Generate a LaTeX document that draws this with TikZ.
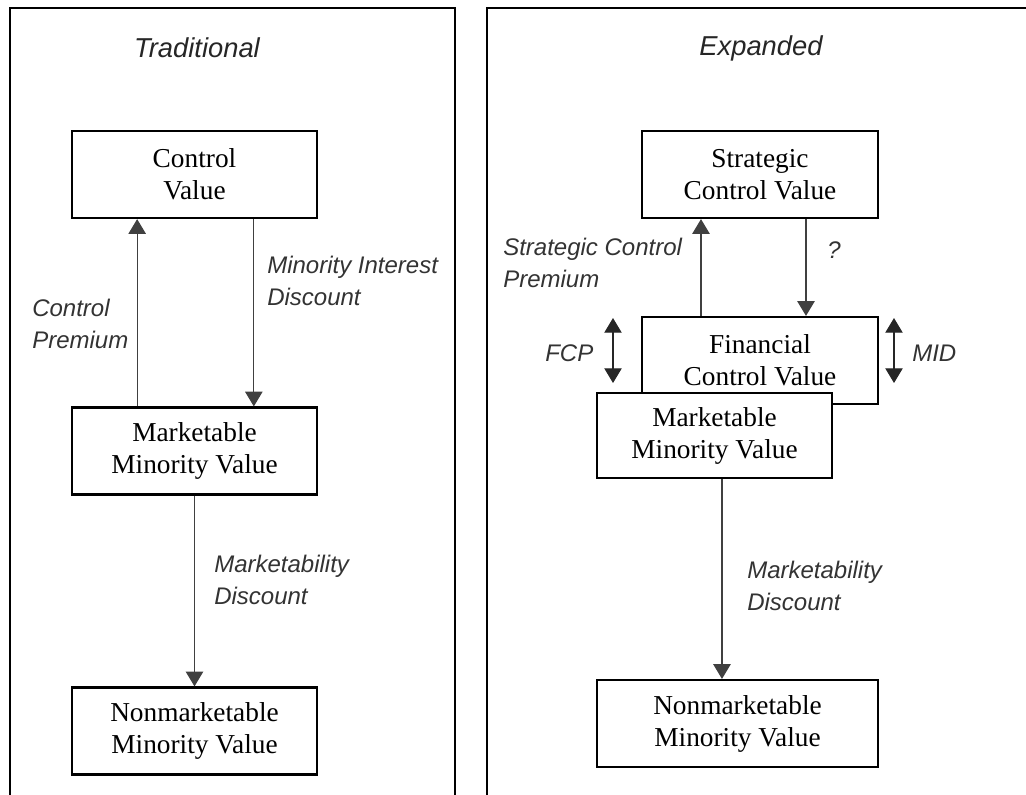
\documentclass[tikz,border=0pt]{standalone}
\usepackage{fontspec}
\setmainfont{Liberation Serif}
\setsansfont{Liberation Sans}
\usetikzlibrary{arrows.meta}

\begin{document}
\begin{tikzpicture}[x=0.75pt,y=-0.75pt,
	valbox/.style={draw,line width=1.9pt,fill=white,minimum width=183.75pt,minimum height=65pt,align=center,inner sep=0pt,font=\fontsize{20.5}{24}\selectfont},
	lbl/.style={anchor=west,inner sep=0pt,align=left,text=black!80,font=\sffamily\itshape\fontsize{18}{24}\selectfont},
	ttl/.style={inner sep=0pt,text=black!85,font=\sffamily\itshape\fontsize{20.5}{24}\selectfont},
	flow/.style={draw=black!75,line width=0.8pt,-{Triangle[width=13pt,length=11pt]}},
	span/.style={draw=black!85,line width=0.8pt,{Triangle[width=13pt,length=11pt]}-{Triangle[width=13pt,length=11pt]}}]

	\useasboundingbox (0,0) rectangle (1026,794);
	\clip (0,0) rectangle (1026,794);

	%frames
	\draw[line width=1.8pt] (10,8) rectangle (455,800);
	\draw[line width=1.8pt] (487,8) rectangle (1040,800);

	%%% traditional
	\node[ttl] (trad) at (197,48) {Traditional};
	\node[valbox] (cv) at (194.5,174.5) {Control\\Value};
	\node[valbox] (mm) at (194.5,451) {Marketable\\Minority Value};
	\node[valbox] (nm) at (194.5,731) {Nonmarketable\\Minority Value};
	% fleches
	\draw[flow] ([xshift=-43pt]mm.north) -- ([xshift=-43pt]cv.south);
	\draw[flow] ([xshift=44.5pt]cv.south) -- ([xshift=44.5pt]mm.north);
	\draw[flow] (mm) -- (nm);
	\node[lbl] (cp) at (32,324) {Control\\Premium};
	\node[lbl] (mid) at (267,281) {Minority Interest\\Discount};
	\node[lbl] (md) at (214,580) {Marketability\\Discount};

	%%% expanded
	\node[ttl] (expd) at (761,48) {Expanded};
	\node[valbox,minimum width=177pt] (scv) at (760,174.5) {Strategic\\Control Value};
	\node[valbox,minimum width=177pt] (fcv) at (760,360.5) {Financial\\Control Value};
	\node[valbox,minimum width=176pt,minimum height=64pt] (mmr) at (714.5,435.5) {Marketable\\Minority Value};
	\node[valbox,minimum width=210.75pt] (nmr) at (737.5,723.5) {Nonmarketable\\Minority Value};
	% fleches
	\draw[flow] ([xshift=-44.25pt]fcv.north) -- ([xshift=-44.25pt]scv.south);
	\draw[flow] ([xshift=34.5pt]scv.south) -- ([xshift=34.5pt]fcv.north);
	\draw[flow] ([xshift=5.6pt]mmr.south) -- ([xshift=5.6pt]mmr.south |- nmr.north);
	\coordinate (fcpT) at (613,318);
	\coordinate (fcpB) at (613,383);
	\coordinate (midT) at (894,318);
	\coordinate (midB) at (894,383);
	\draw[span] (fcpT) -- (fcpB);
	\draw[span] (midT) -- (midB);
	\node[lbl] (scp) at (503,262.5) {Strategic Control\\Premium};
	\node[lbl] (qm) at (827,250) {?};
	\node[lbl] (fcp) at (545,353) {FCP};
	\node[lbl] (midr) at (912,353) {MID};
	\node[lbl] (mdr) at (747,586) {Marketability\\Discount};
\end{tikzpicture}
\end{document}
